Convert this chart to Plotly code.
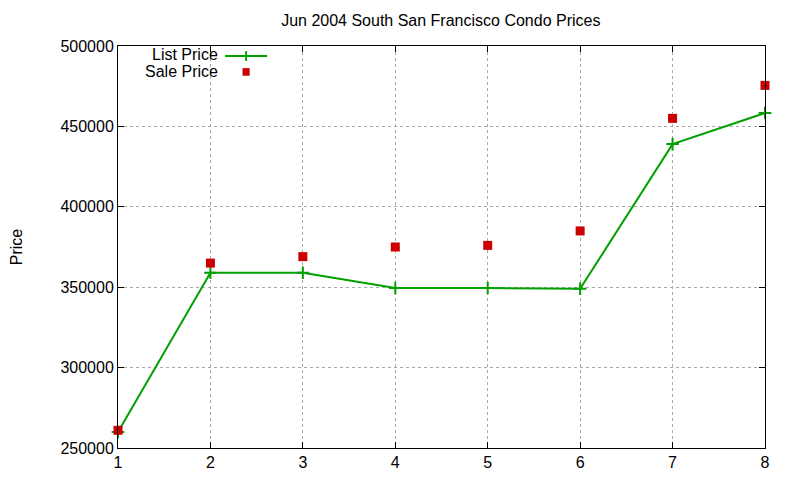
import plotly.graph_objects as go

meses = [1, 2, 3, 4, 5, 6, 7, 8]
preco_lista = [260000, 359000, 359000, 349500, 349500, 349000, 439000, 458300]
preco_venda = [261000, 365000, 369000, 375000, 376000, 385000, 455000, 475500]
y_ticks = [250000, 300000, 350000, 400000, 450000, 500000]

FONTE = "Liberation Sans, Arial, sans-serif"
VERDE = "#00a000"
VERMELHO = "#cc0000"

fig = go.Figure()
fig.add_trace(go.Scatter(
    x=meses, y=preco_lista, name="List Price", mode="lines+markers",
    line=dict(color=VERDE, width=2),
    marker=dict(symbol="cross-thin", size=9, line=dict(color=VERDE, width=2)),
    cliponaxis=False,
))
fig.add_trace(go.Scatter(
    x=meses, y=preco_venda, name="Sale Price", mode="markers",
    marker=dict(symbol="square", size=9, color=VERMELHO),
    cliponaxis=False,
))

# legenda no estilo gnuplot: texto a esquerda, amostra a direita
fig.add_annotation(x=0.157, y=0.978, xref="paper", yref="paper", text="List Price",
                   showarrow=False, xanchor="right", yanchor="middle",
                   font=dict(family=FONTE, size=16, color="black"))
fig.add_annotation(x=0.158, y=0.937, xref="paper", yref="paper", text="Sale Price",
                   showarrow=False, xanchor="right", yanchor="middle",
                   font=dict(family=FONTE, size=16, color="black"))
fig.add_shape(type="line", xref="paper", yref="paper", x0=0.1655, x1=0.2305, y0=0.975, y1=0.975,
              line=dict(color=VERDE, width=2))
fig.add_shape(type="line", xref="paper", yref="paper", x0=0.198, x1=0.198, y0=0.963, y1=0.987,
              line=dict(color=VERDE, width=2))
fig.add_shape(type="rect", xref="paper", yref="paper", x0=0.1925, x1=0.2035, y0=0.926, y1=0.945,
              line=dict(width=0), fillcolor=VERMELHO)

eixo = dict(
    showline=True, linecolor="black", linewidth=1, mirror="ticks",
    ticks="inside", ticklen=6, tickcolor="black",
    showgrid=True, gridcolor="#a8a8a8", griddash="dot", gridwidth=1,
    zeroline=False, tickfont=dict(family=FONTE, size=16, color="black"),
    automargin=False,
)
fig.update_xaxes(range=[1, 8], tickvals=meses, **eixo)
fig.update_yaxes(range=[250000, 500000], tickvals=y_ticks, tickformat="d",
                 title=dict(text="Price", standoff=41,
                            font=dict(family=FONTE, size=16, color="black")), **eixo)

# a pagina tem 8px de margem no body, por isso as margens estao deslocadas
fig.update_layout(
    width=800, height=480,
    title=dict(text="Jun 2004 South San Francisco Condo Prices", x=0.541, xanchor="center",
               y=0.975, yanchor="middle", font=dict(family=FONTE, size=16, color="black")),
    showlegend=False,
    plot_bgcolor="white", paper_bgcolor="white",
    margin=dict(l=110, r=43, t=38, b=40),
)
fig.write_html("out.html")
